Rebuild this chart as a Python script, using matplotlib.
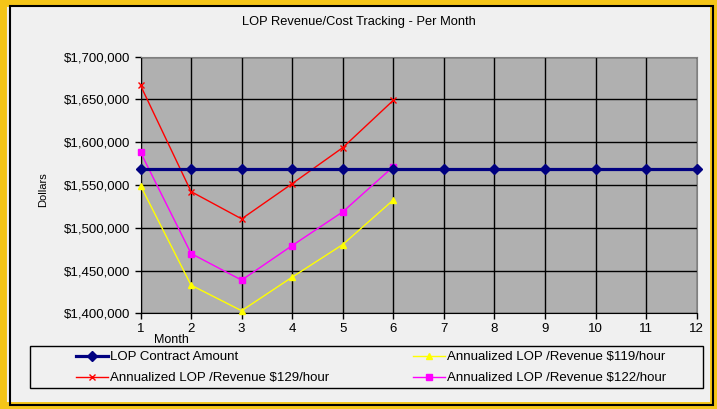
import matplotlib
matplotlib.use("Agg")
import matplotlib.pyplot as plt
from matplotlib.patches import Rectangle

months = list(range(1, 13))
contract = [1568500] * 12
months_act = [1, 2, 3, 4, 5, 6]
rev129 = [1666500, 1542300, 1510400, 1551600, 1593700, 1649000]
rev119 = [1549300, 1432900, 1403000, 1442300, 1480400, 1532500]
rev122 = [1588300, 1469900, 1438800, 1479200, 1518600, 1571500]
yticks = [1400000, 1450000, 1500000, 1550000, 1600000, 1650000, 1700000]

plt.rcParams['font.family'] = ['Liberation Sans', 'DejaVu Sans']
W, H = 717, 409
fig = plt.figure(figsize=(W / 100, H / 100), dpi=100)
fig.patch.set_facecolor('#f0f0f0')

# borders
fig.add_artist(Rectangle((0, 0), 1, 1, transform=fig.transFigure, fill=False,
                         edgecolor='#f5c518', linewidth=10))
fig.add_artist(Rectangle((9.5 / W, 4 / H), (713 - 9.5) / W, (405 - 6) / H,
                         transform=fig.transFigure, fill=False,
                         edgecolor='black', linewidth=1.5))

x0, x1, y0, y1 = 140.5, 696.7, 56.7, 313.3
ax = fig.add_axes([x0 / W, 1 - y1 / H, (x1 - x0) / W, (y1 - y0) / H])
ax.set_facecolor('#b0b0b0')
ax.set_xlim(1, 12)
ax.set_ylim(1400000, 1700000)
ax.set_xticks(months)
ax.set_yticks(yticks)
ax.set_yticklabels([f"${v:,.0f}" for v in yticks])
ax.grid(True, color='black', linewidth=1.0)
ax.set_axisbelow(True)
for s in ['top', 'right']:
    ax.spines[s].set_color('#808080')
for s in ['left', 'bottom']:
    ax.spines[s].set_color('black')
ax.tick_params(axis='both', labelsize=9.5, length=4, width=1, direction='out', pad=3)
ax.tick_params(axis='x', pad=3)

l1, = ax.plot(months, contract, color='#000080', linewidth=2.3, marker='D',
              markersize=5.5, clip_on=False, zorder=5, label='LOP Contract Amount')
l2, = ax.plot(months_act, rev129, color='#ff0000', linewidth=1, marker='x',
              markersize=5, mew=1, clip_on=False, zorder=4,
              label='Annualized LOP /Revenue $129/hour')
l3, = ax.plot(months_act, rev119, color='#ffff00', linewidth=1, marker='^',
              markersize=5, clip_on=False, zorder=4,
              label='Annualized LOP /Revenue $119/hour')
l4, = ax.plot(months_act, rev122, color='#ff00ff', linewidth=1, marker='s',
              markersize=4.5, clip_on=False, zorder=4,
              label='Annualized LOP /Revenue $122/hour')

fig.text(0.5, 1 - 22 / H, 'LOP Revenue/Cost Tracking - Per Month',
         ha='center', va='center', fontsize=9.3)
fig.text(43 / W, 1 - 190 / H, 'Dollars', rotation=90, ha='center', va='center',
         fontsize=8)
fig.text(171 / W, 1 - 340 / H, 'Month', ha='center', va='center', fontsize=9)

# legend frame
fig.add_artist(Rectangle((30 / W, 1 - 388 / H), (703 - 30) / W, 42 / H,
                         transform=fig.transFigure, facecolor='#f0f0f0',
                         edgecolor='black', linewidth=1.0))
common = dict(ncol=1, loc='upper left', fontsize=9.5, frameon=False,
              handlelength=2.4, handletextpad=0.2, borderaxespad=0,
              borderpad=0, labelspacing=0.68)
leg1 = fig.legend([l1, l2], [l1.get_label(), l2.get_label()],
                  bbox_to_anchor=(76 / W, 1 - 351 / H), **common)
leg2 = fig.legend([l3, l4], [l3.get_label(), l4.get_label()],
                  bbox_to_anchor=(413 / W, 1 - 351 / H), **common)

fig.savefig('out.png', dpi=100, facecolor=fig.get_facecolor())
